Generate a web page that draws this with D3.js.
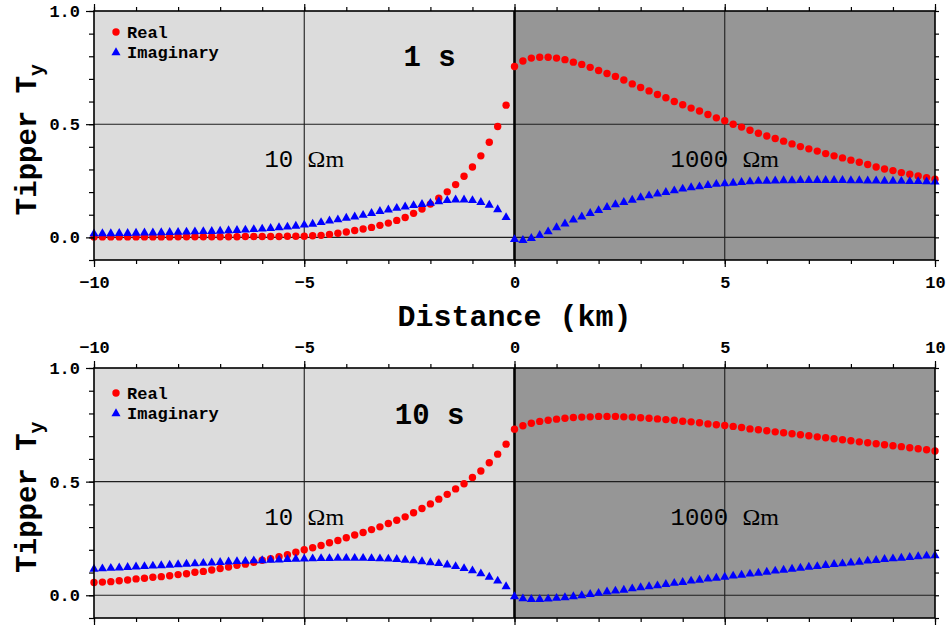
<!DOCTYPE html>
<html>
<head>
<meta charset="utf-8">
<script src="https://cdn.jsdelivr.net/npm/d3@7"></script>
<style>
  body { margin: 0; background: #fff; }
  svg { display: block; }
</style>
</head>
<body>
<svg id="chart" width="947" height="628"></svg>
<script>
// Station positions along the profile (km)
const distanceKm = [
  -10, -9.8, -9.6, -9.4, -9.2, -9, -8.8, -8.6, -8.4, -8.2,
  -8, -7.8, -7.6, -7.4, -7.2, -7, -6.8, -6.6, -6.4, -6.2,
  -6, -5.8, -5.6, -5.4, -5.2, -5, -4.8, -4.6, -4.4, -4.2,
  -4, -3.8, -3.6, -3.4, -3.2, -3, -2.8, -2.6, -2.4, -2.2,
  -2, -1.8, -1.6, -1.4, -1.2, -1, -0.8, -0.6, -0.4, -0.2,
  0, 0.2, 0.4, 0.6, 0.8, 1, 1.2, 1.4, 1.6, 1.8,
  2, 2.2, 2.4, 2.6, 2.8, 3, 3.2, 3.4, 3.6, 3.8,
  4, 4.2, 4.4, 4.6, 4.8, 5, 5.2, 5.4, 5.6, 5.8,
  6, 6.2, 6.4, 6.6, 6.8, 7, 7.2, 7.4, 7.6, 7.8,
  8, 8.2, 8.4, 8.6, 8.8, 9, 9.2, 9.4, 9.6, 9.8, 10
];

// Tipper Ty, period 1 s
const real1s = [
  0.002, 0.002, 0.002, 0.002, 0.002, 0.002, 0.002, 0.002, 0.002, 0.002,
  0.003, 0.003, 0.003, 0.003, 0.003, 0.003, 0.003, 0.003, 0.004, 0.004,
  0.004, 0.004, 0.004, 0.005, 0.005, 0.005, 0.007, 0.009, 0.013, 0.018,
  0.024, 0.030, 0.037, 0.044, 0.053, 0.063, 0.075, 0.088, 0.106, 0.125,
  0.147, 0.173, 0.201, 0.233, 0.270, 0.311, 0.360, 0.420, 0.490, 0.584,
  0.755, 0.779, 0.792, 0.796, 0.796, 0.792, 0.785, 0.774, 0.764, 0.751,
  0.737, 0.724, 0.711, 0.695, 0.678, 0.662, 0.647, 0.631, 0.617, 0.600,
  0.586, 0.571, 0.558, 0.543, 0.528, 0.515, 0.500, 0.487, 0.473, 0.460,
  0.448, 0.437, 0.425, 0.413, 0.401, 0.391, 0.381, 0.370, 0.360, 0.351,
  0.341, 0.332, 0.322, 0.311, 0.302, 0.295, 0.286, 0.279, 0.271, 0.264, 0.257
];
const imag1s = [
  0.016, 0.017, 0.017, 0.018, 0.018, 0.019, 0.020, 0.020, 0.021, 0.022,
  0.023, 0.024, 0.025, 0.026, 0.027, 0.028, 0.030, 0.031, 0.033, 0.035,
  0.037, 0.040, 0.043, 0.046, 0.050, 0.055, 0.059, 0.066, 0.073, 0.078,
  0.085, 0.091, 0.098, 0.106, 0.115, 0.122, 0.129, 0.135, 0.141, 0.146,
  0.151, 0.158, 0.163, 0.166, 0.166, 0.163, 0.155, 0.143, 0.123, 0.088,
  -0.009, -0.013, -0.004, 0.009, 0.025, 0.043, 0.060, 0.077, 0.091, 0.106,
  0.119, 0.133, 0.145, 0.155, 0.165, 0.176, 0.184, 0.192, 0.199, 0.206,
  0.214, 0.220, 0.224, 0.230, 0.235, 0.237, 0.240, 0.243, 0.246, 0.248,
  0.249, 0.250, 0.251, 0.251, 0.252, 0.252, 0.252, 0.252, 0.252, 0.252,
  0.251, 0.251, 0.250, 0.250, 0.249, 0.249, 0.248, 0.247, 0.247, 0.246, 0.245
];

// Tipper Ty, period 10 s
const real10s = [
  0.056, 0.058, 0.060, 0.064, 0.067, 0.072, 0.075, 0.079, 0.082, 0.086,
  0.091, 0.095, 0.101, 0.105, 0.111, 0.118, 0.124, 0.132, 0.137, 0.145,
  0.154, 0.161, 0.170, 0.178, 0.189, 0.200, 0.209, 0.219, 0.231, 0.241,
  0.253, 0.265, 0.276, 0.289, 0.301, 0.316, 0.330, 0.345, 0.363, 0.382,
  0.402, 0.423, 0.444, 0.468, 0.491, 0.518, 0.547, 0.583, 0.621, 0.665,
  0.731, 0.746, 0.757, 0.765, 0.770, 0.775, 0.779, 0.782, 0.784, 0.785,
  0.787, 0.787, 0.787, 0.785, 0.784, 0.781, 0.779, 0.776, 0.773, 0.770,
  0.766, 0.763, 0.759, 0.754, 0.750, 0.747, 0.743, 0.738, 0.732, 0.728,
  0.724, 0.719, 0.715, 0.711, 0.706, 0.702, 0.697, 0.693, 0.689, 0.684,
  0.680, 0.675, 0.671, 0.667, 0.662, 0.658, 0.654, 0.649, 0.645, 0.640, 0.635
];
const imag10s = [
  0.115, 0.117, 0.119, 0.121, 0.123, 0.125, 0.127, 0.129, 0.131, 0.133,
  0.135, 0.137, 0.139, 0.141, 0.143, 0.145, 0.147, 0.149, 0.150, 0.152,
  0.153, 0.155, 0.156, 0.158, 0.159, 0.160, 0.161, 0.162, 0.162, 0.163,
  0.163, 0.163, 0.163, 0.162, 0.161, 0.160, 0.158, 0.155, 0.152, 0.148,
  0.144, 0.140, 0.134, 0.127, 0.118, 0.108, 0.095, 0.080, 0.063, 0.038,
  -0.006, -0.015, -0.018, -0.018, -0.016, -0.013, -0.010, -0.006, -0.001, 0.004,
  0.009, 0.015, 0.019, 0.023, 0.029, 0.034, 0.038, 0.042, 0.048, 0.053,
  0.057, 0.063, 0.067, 0.072, 0.076, 0.080, 0.085, 0.089, 0.094, 0.098,
  0.102, 0.107, 0.111, 0.115, 0.120, 0.124, 0.127, 0.132, 0.136, 0.139,
  0.143, 0.146, 0.151, 0.154, 0.158, 0.161, 0.164, 0.167, 0.170, 0.173, 0.175
];

const xMajorTicks = [-10, -5, 0, 5, 10];
const xMinorTicks = [-10, -9, -8, -7, -6, -5, -4, -3, -2, -1, 0, 1, 2, 3, 4, 5, 6, 7, 8, 9, 10];
const yMajorTicks = [0.0, 0.5, 1.0];
const yMinorTicks = [-0.1, 0, 0.1, 0.2, 0.3, 0.4, 0.5, 0.6, 0.7, 0.8, 0.9, 1.0];
const periodLabels = ["1 s", "10 s"];
const resistivities = ["10", "1000"];
const seriesNames = ["Real", "Imaginary"];

const MONO = "'Liberation Mono', 'Courier New', monospace";
const SERIF = "'Liberation Serif', 'Times New Roman', serif";

const svg = d3.select("#chart");
const x = d3.scaleLinear().domain([-10, 10]).range([94, 935]);

const panels = [
  { top: 11, bottom: 260, period: periodLabels[0], real: real1s, imag: imag1s,
    labelsBelow: true, labelsAbove: false, legendDy: 21 },
  { top: 368, bottom: 618, period: periodLabels[1], real: real10s, imag: imag10s,
    labelsBelow: false, labelsAbove: true, legendDy: 25 }
];

const triangle = d3.symbol().type(d3.symbolTriangle).size(36);

function styleAxis(g) {
  g.select(".domain").remove();
  g.selectAll(".tick line").attr("stroke", "#000").attr("stroke-width", 1.2);
  g.selectAll(".tick text")
    .attr("fill", "#000")
    .style("font-family", MONO)
    .style("font-weight", "bold")
    .style("font-size", "17px");
}

panels.forEach(p => {
  const y = d3.scaleLinear().domain([-0.1, 1.0]).range([p.bottom, p.top]);
  const g = svg.append("g");

  // resistivity blocks
  g.append("rect")
    .attr("x", x(-10)).attr("y", p.top)
    .attr("width", x(0) - x(-10)).attr("height", p.bottom - p.top)
    .attr("fill", "#dcdcdc");
  g.append("rect")
    .attr("x", x(0)).attr("y", p.top)
    .attr("width", x(10) - x(0)).attr("height", p.bottom - p.top)
    .attr("fill", "#969696");

  // grid
  g.selectAll("line.vgrid").data([-5, 5]).join("line")
    .attr("x1", d => x(d)).attr("x2", d => x(d))
    .attr("y1", p.top).attr("y2", p.bottom)
    .attr("stroke", "#1e1e1e").attr("stroke-width", 1.1);
  g.selectAll("line.hgrid").data([0, 0.5]).join("line")
    .attr("x1", x(-10)).attr("x2", x(10))
    .attr("y1", d => y(d)).attr("y2", d => y(d))
    .attr("stroke", "#1e1e1e").attr("stroke-width", 1.1);
  // contact between the two blocks
  g.append("line")
    .attr("x1", x(0)).attr("x2", x(0))
    .attr("y1", p.top).attr("y2", p.bottom)
    .attr("stroke", "#000").attr("stroke-width", 2.6);

  // resistivity labels, centred on the middle of each block
  [[-5, resistivities[0]], [5, resistivities[1]]].forEach(([pos, rho]) => {
    const t = g.append("text")
      .attr("x", x(pos)).attr("y", y(0.31))
      .attr("text-anchor", "middle")
      .style("font-size", "24px").attr("fill", "#000");
    t.append("tspan").style("font-family", MONO).text(rho + " ");
    t.append("tspan").style("font-family", SERIF).text("\u03A9m");
  });

  // period label
  g.append("text")
    .attr("x", x(-2.02)).attr("y", y(0.755))
    .attr("text-anchor", "middle")
    .style("font-family", MONO).style("font-weight", "bold").style("font-size", "29px")
    .attr("fill", "#000")
    .text(p.period);

  // data points
  const pts = distanceKm.map((d, i) => ({ d, re: p.real[i], im: p.imag[i] }));
  g.selectAll("circle.re").data(pts).join("circle")
    .attr("cx", v => x(v.d)).attr("cy", v => y(v.re))
    .attr("r", 3.7).attr("fill", "#ff0000");
  g.selectAll("path.im").data(pts).join("path")
    .attr("d", triangle)
    .attr("transform", v => `translate(${x(v.d)},${y(v.im)})`)
    .attr("fill", "#0000ff");

  // legend
  const lg = g.append("g").attr("transform", `translate(${x(-10) + 22},${p.top + p.legendDy})`);
  lg.append("circle").attr("cx", 0).attr("cy", 0).attr("r", 3.7).attr("fill", "#ff0000");
  lg.append("path").attr("d", triangle).attr("transform", "translate(0,20.5)").attr("fill", "#0000ff");
  lg.selectAll("text").data(seriesNames).join("text")
    .attr("x", 11).attr("y", (d, i) => i * 20.5 + 5.5)
    .style("font-family", MONO).style("font-weight", "bold").style("font-size", "17px")
    .attr("fill", "#000")
    .text(d => d);

  // frame
  g.append("rect")
    .attr("x", x(-10)).attr("y", p.top)
    .attr("width", x(10) - x(-10)).attr("height", p.bottom - p.top)
    .attr("fill", "none").attr("stroke", "#000").attr("stroke-width", 1.6);

  // x axes (bottom and top)
  const bMinor = g.append("g").attr("transform", `translate(0,${p.bottom})`)
    .call(d3.axisBottom(x).tickValues(xMinorTicks).tickSize(4).tickFormat(""));
  styleAxis(bMinor);
  const bMajor = g.append("g").attr("transform", `translate(0,${p.bottom})`)
    .call(d3.axisBottom(x).tickValues(xMajorTicks).tickSize(7).tickPadding(9)
      .tickFormat(p.labelsBelow ? d3.format("d") : ""));
  styleAxis(bMajor);
  const tMinor = g.append("g").attr("transform", `translate(0,${p.top})`)
    .call(d3.axisTop(x).tickValues(xMinorTicks).tickSize(4).tickFormat(""));
  styleAxis(tMinor);
  const tMajor = g.append("g").attr("transform", `translate(0,${p.top})`)
    .call(d3.axisTop(x).tickValues(xMajorTicks).tickSize(7).tickPadding(8)
      .tickFormat(p.labelsAbove ? d3.format("d") : ""));
  styleAxis(tMajor);

  // y axes (left and right)
  const lMinor = g.append("g").attr("transform", `translate(${x(-10)},0)`)
    .call(d3.axisLeft(y).tickValues(yMinorTicks).tickSize(5).tickFormat(""));
  styleAxis(lMinor);
  const lMajor = g.append("g").attr("transform", `translate(${x(-10)},0)`)
    .call(d3.axisLeft(y).tickValues(yMajorTicks).tickSize(8).tickPadding(6)
      .tickFormat(d3.format(".1f")));
  styleAxis(lMajor);
  const rMinor = g.append("g").attr("transform", `translate(${x(10)},0)`)
    .call(d3.axisRight(y).tickValues(yMinorTicks).tickSize(4).tickFormat(""));
  styleAxis(rMinor);

  // y title
  const yt = g.append("text")
    .attr("transform", `translate(36,${(p.top + p.bottom) / 2 + 4}) rotate(-90)`)
    .attr("text-anchor", "middle")
    .style("font-family", MONO).style("font-weight", "bold").style("font-size", "29px")
    .attr("fill", "#000");
  yt.append("tspan").text("Tipper T");
  yt.append("tspan").attr("dy", 7).style("font-size", "20px").text("y");
});

// x title between the panels
svg.append("text")
  .attr("x", x(0)).attr("y", 326)
  .attr("text-anchor", "middle")
  .style("font-family", MONO).style("font-weight", "bold").style("font-size", "30px")
  .attr("fill", "#000")
  .text("Distance (km)");
</script>
</body>
</html>
